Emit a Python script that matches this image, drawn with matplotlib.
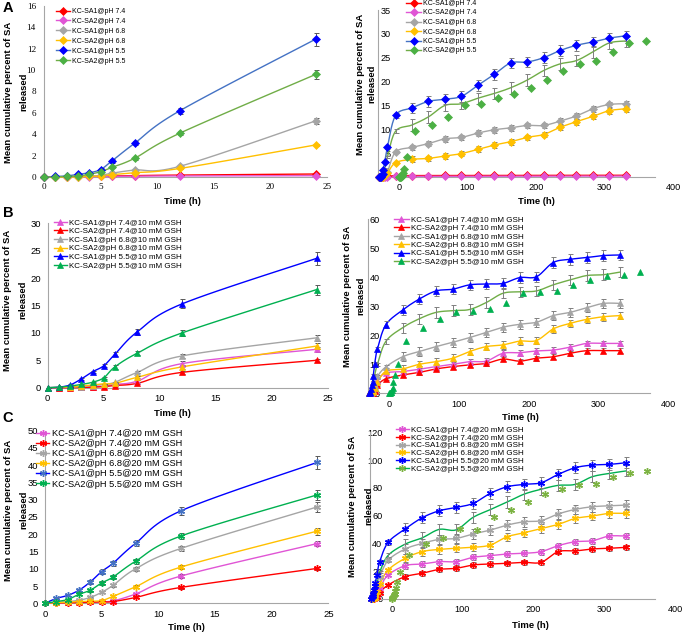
import numpy as np
import matplotlib.pyplot as plt
from matplotlib.lines import Line2D

plt.rcParams['font.family'] = ['Liberation Sans', 'DejaVu Sans']

W, H = 685, 633

# sampling times (h)
t_short = [0, 1, 2, 3, 4, 5, 6, 8, 12, 24]
t_tail = [48, 72, 96, 120, 144, 168, 192, 216, 240, 264, 288, 312, 336, 360]
t_long = t_short + t_tail
line_shift = -29   # long-time lines sit left of the axis origin in the original

# ---- A: pH only ----
a_labels = ['KC-SA1@pH 7.4', 'KC-SA2@pH 7.4', 'KC-SA1@pH 6.8',
            'KC-SA2@pH 6.8', 'KC-SA1@pH 5.5', 'KC-SA2@pH 5.5']
a_sa1_74 = [0, 0.02, 0.03, 0.05, 0.06, 0.08, 0.1, 0.13, 0.18, 0.28]
a_sa2_74 = [0, 0.01, 0.02, 0.03, 0.04, 0.05, 0.06, 0.08, 0.1, 0.12]
a_sa1_68 = [0, 0, 0.01, 0.02, 0.05, 0.15, 0.35, 0.65, 1.0, 5.25]
a_sa2_68 = [0, 0, 0, 0.02, 0.05, 0.1, 0.22, 0.4, 0.8, 3.0]
a_sa1_55 = [0, 0.05, 0.1, 0.25, 0.4, 0.7, 1.5, 3.15, 6.2, 12.9]
a_sa2_55 = [0, 0.02, 0.05, 0.1, 0.25, 0.5, 0.9, 1.75, 4.1, 9.6]
a_sa1_74_tail = [0.3, 0.3, 0.32, 0.32, 0.33, 0.33, 0.34, 0.34, 0.35, 0.35, 0.35, 0.36, 0.36, 0.36]
a_sa2_74_tail = [0.14, 0.15, 0.15, 0.16, 0.16, 0.17, 0.17, 0.18, 0.18, 0.19, 0.19, 0.2, 0.2, 0.2]
a_sa1_68_tail = [6.2, 7.0, 8.0, 8.3, 9.2, 9.9, 10.3, 10.8, 10.8, 11.7, 12.8, 14.3, 15.2, 15.35]
a_sa2_68_tail = [3.7, 3.9, 4.4, 4.9, 5.8, 6.7, 7.4, 8.3, 8.9, 10.4, 11.6, 12.7, 13.9, 14.3]
a_sa1_55_tail = [14.5, 15.85, 16.3, 16.9, 19.2, 21.5, 23.9, 24.1, 25.0, 26.5, 27.6, 28.3, 29.1, 29.6]
a_sa2_55_tail = [10.9, 12.6, 15.0, 15.35, 16.5, 17.5, 18.7, 20.3, 22.3, 23.7, 24.4, 26.2, 28.1, 28.5]
a_err = [[0, 0, 0, 0, 0, 0, 0, 0.01, 0.02, 0.04],
         [0, 0, 0, 0, 0, 0, 0, 0.01, 0.02, 0.03],
         [0, 0, 0, 0, 0.01, 0.02, 0.04, 0.06, 0.1, 0.25],
         [0, 0, 0, 0, 0.01, 0.02, 0.03, 0.05, 0.08, 0.12],
         [0, 0.01, 0.02, 0.04, 0.05, 0.1, 0.15, 0.2, 0.3, 0.6],
         [0, 0.01, 0.01, 0.02, 0.04, 0.06, 0.1, 0.15, 0.2, 0.45]]
a_err_tail = [0.08, 0.06, 0.6, 0.6, 1.1, 1.2]

# ---- B: pH + 10 mM GSH ----
b_labels = ['KC-SA1@pH 7.4@10 mM GSH', 'KC-SA2@pH 7.4@10 mM GSH', 'KC-SA1@pH 6.8@10 mM GSH',
            'KC-SA2@pH 6.8@10 mM GSH', 'KC-SA1@pH 5.5@10 mM GSH', 'KC-SA2@pH 5.5@10 mM GSH']
b_sa1_74 = [0, 0, 0.05, 0.1, 0.2, 0.3, 0.6, 1.2, 4.4, 7.0]
b_sa2_74 = [0, 0, 0, 0.05, 0.1, 0.2, 0.4, 0.8, 2.8, 5.0]
b_sa1_68 = [0, 0.05, 0.1, 0.2, 0.4, 0.6, 1.0, 2.8, 5.8, 9.1]
b_sa2_68 = [0, 0.05, 0.1, 0.3, 0.5, 0.7, 0.8, 1.9, 3.8, 7.6]
b_sa1_55 = [0, 0.1, 0.5, 1.6, 2.9, 4.0, 6.1, 10.2, 15.3, 23.6]
b_sa2_55 = [0, 0.1, 0.3, 0.6, 1.0, 1.8, 3.8, 6.3, 10.0, 17.9]
b_sa1_74_tail = [7.5, 8.3, 9.2, 10.0, 10.9, 11.1, 13.8, 14.0, 14.6, 14.9, 15.9, 17.2, 17.2, 17.2]
b_sa2_74_tail = [6.3, 7.2, 8.4, 9.2, 9.8, 10.3, 11.8, 11.1, 12.1, 12.6, 13.8, 14.7, 14.7, 14.7]
b_sa1_68_tail = [12.6, 14.4, 16.1, 17.6, 19.2, 21.0, 22.8, 23.8, 24.5, 26.8, 27.9, 29.5, 31.0, 31.0]
b_sa2_68_tail = [8.4, 10.0, 10.9, 12.1, 14.4, 16.1, 16.7, 18.0, 18.2, 22.2, 24.1, 25.5, 26.4, 26.8]
b_sa1_55_tail = [28.7, 32.5, 35.3, 35.9, 37.4, 37.7, 37.9, 39.9, 40.2, 45.1, 46.2, 46.8, 47.5, 47.7]
b_sa2_55_tail = [22.6, 25.7, 27.9, 28.5, 28.9, 31.3, 34.5, 35.0, 35.3, 37.4, 39.1, 40.6, 40.9, 41.8]
b_err = [[0, 0, 0, 0, 0, 0.05, 0.1, 0.2, 0.4, 0.4],
         [0, 0, 0, 0, 0, 0.05, 0.1, 0.15, 0.3, 0.3],
         [0, 0, 0, 0, 0.05, 0.05, 0.1, 0.2, 0.4, 0.5],
         [0, 0, 0, 0, 0.05, 0.05, 0.1, 0.2, 0.3, 0.5],
         [0, 0.05, 0.1, 0.2, 0.2, 0.3, 0.4, 0.5, 0.8, 1.2],
         [0, 0.05, 0.1, 0.1, 0.1, 0.2, 0.3, 0.4, 0.5, 0.9]]
b_err_tail = [1.0, 0.8, 1.5, 1.3, 1.8, 1.8]

# ---- C: pH + 20 mM GSH ----
c_labels = ['KC-SA1@pH 7.4@20 mM GSH', 'KC-SA2@pH 7.4@20 mM GSH', 'KC-SA1@pH 6.8@20 mM GSH',
            'KC-SA2@pH 6.8@20 mM GSH', 'KC-SA1@pH 5.5@20 mM GSH', 'KC-SA2@pH 5.5@20 mM GSH']
c_sa1_74 = [0, 0.1, 0.2, 0.3, 0.4, 0.5, 0.7, 2.7, 7.9, 17.3]
c_sa2_74 = [0, 0.1, 0.15, 0.2, 0.3, 0.4, 0.5, 1.7, 4.6, 10.1]
c_sa1_68 = [0, 0.3, 0.5, 0.9, 1.7, 3.2, 5.2, 10.0, 15.9, 27.9]
c_sa2_68 = [0, 0.2, 0.3, 0.5, 0.6, 0.8, 2.0, 4.8, 10.5, 20.9]
c_sa1_55 = [0, 1.4, 2.3, 3.8, 6.2, 9.2, 11.6, 17.4, 26.8, 40.8]
c_sa2_55 = [0, 0.5, 1.1, 2.6, 3.8, 5.9, 7.6, 12.2, 19.5, 31.4]
c_sa1_74_tail = [24.0, 25.2, 26.9, 26.9, 30.0, 31.2, 32.4, 32.9, 34.1, 38.4, 41.2, 41.9, 45.3, 45.3]
c_sa2_74_tail = [16.1, 18.5, 21.3, 22.1, 24.5, 25.2, 25.7, 26.4, 26.4, 34.1, 34.6, 36.0, 36.5, 37.2]
c_sa1_68_tail = [36.0, 40.0, 42.9, 43.6, 46.8, 49.6, 53.2, 55.6, 56.4, 61.2, 64.5, 66.4, 67.1, 67.6]
c_sa2_68_tail = [29.3, 34.1, 35.7, 36.5, 37.2, 38.8, 44.8, 47.7, 50.8, 53.7, 58.0, 59.7, 61.6, 61.6]
c_sa1_55_tail = [50.4, 58.5, 63.5, 65.9, 68.8, 76.0, 80.8, 82.5, 83.7, 89.7, 94.5, 96.4, 96.9, 98.1]
c_sa2_55_tail = [39.5, 44.0, 50.1, 49.8, 58.8, 64.3, 69.8, 75.5, 79.0, 81.8, 82.5, 88.0, 90.4, 92.2]
c_err = [[0, 0, 0, 0, 0.1, 0.1, 0.2, 0.4, 0.5, 0.8],
         [0, 0, 0, 0, 0.1, 0.1, 0.1, 0.3, 0.4, 0.5],
         [0, 0.1, 0.1, 0.2, 0.2, 0.3, 0.4, 0.6, 0.8, 1.5],
         [0, 0.1, 0.1, 0.1, 0.2, 0.2, 0.3, 0.5, 0.6, 1.0],
         [0, 0.2, 0.3, 0.4, 0.5, 0.6, 0.7, 0.8, 1.2, 2.0],
         [0, 0.1, 0.2, 0.3, 0.4, 0.5, 0.6, 0.7, 1.0, 1.4]]
c_err_tail = [2.2, 2.0, 3.5, 3.0, 4.0, 4.0]

a_short = [a_sa1_74, a_sa2_74, a_sa1_68, a_sa2_68, a_sa1_55, a_sa2_55]
a_tail = [a_sa1_74_tail, a_sa2_74_tail, a_sa1_68_tail, a_sa2_68_tail, a_sa1_55_tail, a_sa2_55_tail]
b_short = [b_sa1_74, b_sa2_74, b_sa1_68, b_sa2_68, b_sa1_55, b_sa2_55]
b_tail = [b_sa1_74_tail, b_sa2_74_tail, b_sa1_68_tail, b_sa2_68_tail, b_sa1_55_tail, b_sa2_55_tail]
c_short = [c_sa1_74, c_sa2_74, c_sa1_68, c_sa2_68, c_sa1_55, c_sa2_55]
c_tail = [c_sa1_74_tail, c_sa2_74_tail, c_sa1_68_tail, c_sa2_68_tail, c_sa1_55_tail, c_sa2_55_tail]

RED, PINK, GRAY, GOLD = '#FF0000', '#E055D5', '#A5A5A5', '#FFC000'
a_lines = [RED, PINK, GRAY, GOLD, '#4472C4', '#70AD47']
a_marks = [RED, PINK, GRAY, GOLD, '#0000FF', '#4CB044']
b_lines = [PINK, RED, GRAY, GOLD, '#0000FF', '#00B050']
b_marks = [PINK, RED, GRAY, GOLD, '#0000FF', '#00B050']
b_lines_r = [PINK, RED, GRAY, GOLD, '#0000FF', '#70AD47']
c_lines = [PINK, RED, GRAY, GOLD, '#0000FF', '#00B050']
c_marks = [PINK, RED, GRAY, GOLD, '#4472C4', '#00B050']
c_marks_r = [PINK, RED, GRAY, GOLD, '#0000FF', '#7CB342']


def smooth(x, y, n=14):
    # Excel-like smoothed line through the points (cubic Bezier segments)
    x = np.asarray(x, float)
    y = np.asarray(y, float)
    px = np.concatenate([[x[0]], x, [x[-1]]])
    py = np.concatenate([[y[0]], y, [y[-1]]])
    s = np.linspace(0, 1, n + 1)[1:]
    xs, ys = [x[0]], [y[0]]
    for i in range(1, len(x)):
        x0, x1, x2, x3 = px[i - 1], px[i], px[i + 1], px[i + 2]
        y0, y1, y2, y3 = py[i - 1], py[i], py[i + 1], py[i + 2]
        cx1, cy1 = x1 + (x2 - x0) / 6, y1 + (y2 - y0) / 6
        cx2, cy2 = x2 - (x3 - x1) / 6, y2 - (y3 - y1) / 6
        b0, b1, b2, b3 = (1 - s) ** 3, 3 * s * (1 - s) ** 2, 3 * s ** 2 * (1 - s), s ** 3
        xs.extend(b0 * x1 + b1 * cx1 + b2 * cx2 + b3 * x2)
        ys.extend(b0 * y1 + b1 * cy1 + b2 * cy2 + b3 * y2)
    return np.array(xs), np.array(ys)


fig = plt.figure(figsize=(6.85, 6.33), dpi=100)


def add_ax(x_left, x_right, y_top, y_bot):
    return fig.add_axes([x_left / W, 1 - y_bot / H, (x_right - x_left) / W, (y_bot - y_top) / H])


def txt(px, py, s, **kw):
    fig.text(px / W, 1 - py / H, s, ha='center', va='center', **kw)


def draw(ax, times, values, errs, lcols, mcols, marker, ms, mew, shift=0, loose=False, ecol='#595959'):
    for i, (y, e) in enumerate(zip(values, errs)):
        x = np.array(times, float) + shift
        xs, ys = smooth(x, y)
        ax.plot(xs, ys, color=lcols[i], lw=1.0, zorder=3, clip_on=False)
        ax.errorbar(x, y, yerr=e, fmt='none', ecolor=ecol, elinewidth=0.7,
                    capsize=1.8, capthick=0.7, zorder=4, clip_on=False)
        mx = np.array(times, float) if (loose and i == 5) else x
        ax.plot(mx, y, ls='none', marker=marker, ms=ms, mfc=mcols[i], mec=mcols[i],
                mew=mew, zorder=5, clip_on=False)


def style(ax, xlim, ylim, xticks, yticks, right=False, xend=None, tick_font=None, tsize=6.8, ypad=5):
    ax.set_xlim(*xlim)
    ax.set_ylim(*ylim)
    ax.patch.set_alpha(0)
    for s in ['top', 'right']:
        ax.spines[s].set_visible(False)
    for s in ['left', 'bottom']:
        ax.spines[s].set_color('#A6A6A6')
        ax.spines[s].set_linewidth(0.8)
    ax.set_xticks(xticks)
    ax.set_yticks(yticks)
    ax.tick_params(length=0, labelsize=tsize, pad=4.5)
    ax.tick_params(axis='y', pad=ypad)
    if right:
        ax.tick_params(axis='y', pad=-8.6)
        ax.spines['bottom'].set_bounds(xlim[0], xend)
    if tick_font:
        for lab in ax.get_xticklabels() + ax.get_yticklabels():
            lab.set_family(tick_font)


def legend(ax, labels, lcols, mcols, marker, ms, mew, anchor, size, lspace, hlen):
    handles = [Line2D([], [], color=lcols[i], lw=1.0, marker=marker, ms=ms,
                      mfc=mcols[i], mec=mcols[i], mew=mew) for i in range(len(labels))]
    ax.legend(handles, labels, loc='upper left', bbox_to_anchor=(anchor[0] / W, 1 - anchor[1] / H),
              bbox_transform=fig.transFigure, frameon=False, fontsize=size, borderpad=0,
              borderaxespad=0, labelspacing=lspace, handlelength=hlen, handletextpad=0.3,
              numpoints=1)


def ylabel(x1, x2, yc):
    txt(x1, yc, 'Mean cumulative percent of SA', rotation=90, fontsize=6.8, fontweight='bold')
    txt(x2, yc, 'released', rotation=90, fontsize=6.8, fontweight='bold')


star = (6, 2, 0)

# ---------- A left ----------
ax = add_ax(44, 327, 6, 177)
draw(ax, t_short, a_short, a_err, a_lines, a_marks, 'D', 3.6, 0.5)
style(ax, (0, 25), (0, 16), range(0, 26, 5), range(0, 17, 2),
      tick_font='Liberation Serif', tsize=6.6, ypad=5.8)
legend(ax, a_labels, a_lines, a_marks, 'D', 3.6, 0.5, (56, 8), 5.0, 0.42, 2.0)
txt(182, 201, 'Time (h)', fontsize=6.8, fontweight='bold')
ylabel(8.5, 23.5, 92)

# ---------- A right ----------
ax = add_ax(399 - 30 * 0.685, 673, 10, 177)
a_long = [s + t for s, t in zip(a_short, a_tail)]
a_err_long = [e + [et] * len(t_tail) for e, et in zip(a_err, a_err_tail)]
draw(ax, t_long, a_long, a_err_long, a_lines, a_marks, 'D', 3.6, 0.5, shift=line_shift,
     loose=True, ecol='#7F7F7F')
style(ax, (-30, 400), (0, 35), range(0, 401, 100), range(0, 36, 5), right=True, xend=374, tsize=6.6)
legend(ax, a_labels, a_lines, a_marks, 'D', 3.6, 0.5, (406, 0), 5.0, 0.36, 2.2)
txt(536, 202, 'Time (h)', fontsize=6.8, fontweight='bold')
ylabel(361, 372, 84)

# ---------- B left ----------
ax = add_ax(47.7, 327.7, 223.3, 387.7)
draw(ax, t_short, b_short, b_err, b_lines, b_marks, '^', 4.2, 0.5)
style(ax, (0, 25), (0, 30), range(0, 26, 5), range(0, 31, 5), ypad=5)
legend(ax, b_labels, b_lines, b_marks, '^', 4.2, 0.5, (54, 219), 5.8, 0.12, 1.6)
txt(172, 414, 'Time (h)', fontsize=6.8, fontweight='bold')
ylabel(7.5, 22.5, 300)

# ---------- B right ----------
ax = add_ax(389.3 - 31 * 0.6975, 668.3, 219.3, 393.3)
b_long = [s + t for s, t in zip(b_short, b_tail)]
b_err_long = [e + [et] * len(t_tail) for e, et in zip(b_err, b_err_tail)]
draw(ax, t_long, b_long, b_err_long, b_lines_r, b_marks, '^', 4.2, 0.5, shift=line_shift,
     loose=True, ecol='#7F7F7F')
style(ax, (-31, 400), (0, 60), range(0, 401, 100), range(0, 61, 10), right=True, xend=374, tsize=6.6)
legend(ax, b_labels, b_lines_r, b_marks, '^', 4.2, 0.5, (394, 216), 5.8, 0.1, 1.85)
txt(520, 417, 'Time (h)', fontsize=6.8, fontweight='bold')
ylabel(348, 361, 296)

# ---------- C left ----------
ax = add_ax(45, 328.3, 430.7, 603.3)
draw(ax, t_short, c_short, c_err, c_lines, c_marks, star, 5.0, 1.0)
style(ax, (0, 25), (0, 50), range(0, 26, 5), range(0, 51, 5), ypad=4.8)
legend(ax, c_labels, c_lines, c_marks, star, 5.0, 1.0, (36, 429), 6.7, 0.12, 1.4)
txt(186, 628, 'Time (h)', fontsize=6.8, fontweight='bold')
ylabel(8.5, 24, 510)

# ---------- C right ----------
ax = add_ax(391.7 - 30 * 0.708, 675, 432.3, 599)
c_long = [s + t for s, t in zip(c_short, c_tail)]
c_err_long = [e + [et] * len(t_tail) for e, et in zip(c_err, c_err_tail)]
draw(ax, t_long, c_long, c_err_long, c_lines, c_marks_r, star, 5.0, 1.0, shift=line_shift,
     loose=True, ecol='#7F7F7F')
style(ax, (-30, 400), (0, 120), range(0, 401, 100), range(0, 121, 20), right=True, xend=372, tsize=6.6)
legend(ax, c_labels, c_lines, c_marks_r, star, 5.0, 1.0, (396, 426), 5.8, 0.03, 1.6)
txt(530, 625, 'Time (h)', fontsize=6.8, fontweight='bold')
ylabel(353, 369, 506)

# panel letters
txt(8, 8, 'A', fontsize=10.5, fontweight='bold')
txt(8, 213, 'B', fontsize=10.5, fontweight='bold')
txt(8, 418, 'C', fontsize=10.5, fontweight='bold')

fig.savefig('out.png', dpi=100)
